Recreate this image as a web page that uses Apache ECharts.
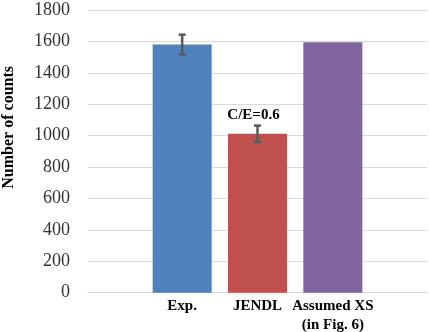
<!DOCTYPE html>
<html>
<head>
<meta charset="utf-8">
<script src="https://cdn.jsdelivr.net/npm/echarts@6/dist/echarts.min.js"></script>
<style>
  html, body { margin: 0; padding: 0; background: #fff; }
  #chart { width: 429px; height: 332px; }
</style>
</head>
<body>
<div id="chart"></div>
<script>
  // data
  const categories = ['Exp.', 'JENDL', 'Assumed XS\n(in Fig. 6)']
  const counts = [1580, 1012, 1595]
  const errors = [63, 52, null]
  const barColors = ['#4F81BD', '#C0504D', '#8064A2']
  const yTicks = [0, 200, 400, 600, 800, 1000, 1200, 1400, 1600, 1800]
  const ratioNote = 'C/E=0.6'

  const chart = echarts.init(document.getElementById('chart'))

  const serif = '"Liberation Serif", "DejaVu Serif", serif'

  let barData = counts.map((v, i) => {
    let item = {
      value: [i, v],
      itemStyle: { color: barColors[i] }
    }
    if (i === 1) {
      item.label = {
        show: true,
        position: 'top',
        distance: 11,
        offset: [-4, 0],
        formatter: ratioNote,
        fontFamily: serif,
        fontWeight: 'bold',
        fontSize: 15,
        color: '#000'
      }
    }
    return item
  })

  let errData = []
  counts.forEach((v, i) => {
    if (errors[i] != null) {
      errData.push([i, v - errors[i], v + errors[i]])
    }
  })

  let option = {
    animation: false,
    grid: {
      left: 88,
      right: 2,
      top: 10,
      bottom: 39.3,
      outerBoundsMode: 'none'
    },
    xAxis: {
      type: 'value',
      min: -1.25,
      max: 3.25,
      interval: 0.25,
      splitLine: { show: false },
      axisTick: { show: false },
      axisLine: { show: true, lineStyle: { color: '#d9d9d9', width: 1 } },
      axisLabel: {
        margin: 4,
        fontFamily: serif,
        fontWeight: 'bold',
        fontSize: 15,
        lineHeight: 19,
        color: '#000',
        showMinLabel: false,
        showMaxLabel: false,
        formatter: (value) => {
          let i = Math.round(value)
          return Math.abs(value - i) < 1e-6 && categories[i] ? categories[i] : ''
        }
      }
    },
    yAxis: {
      type: 'value',
      min: yTicks[0],
      max: yTicks[yTicks.length - 1],
      interval: yTicks[1] - yTicks[0],
      name: 'Number of counts',
      nameLocation: 'middle',
      nameGap: 71,
      nameTextStyle: {
        fontFamily: serif,
        fontWeight: 'bold',
        fontSize: 16,
        color: '#000',
        padding: [0, 0, 0, 48]
      },
      axisLine: { show: false },
      axisTick: { show: false },
      axisLabel: {
        margin: 18,
        fontFamily: serif,
        fontSize: 18,
        color: '#333',
        formatter: (value) => String(value)
      },
      splitLine: {
        lineStyle: { color: '#d9d9d9', width: 1 }
      }
    },
    series: [
      {
        type: 'bar',
        barWidth: 59,
        data: barData
      },
      {
        type: 'custom',
        data: errData,
        z: 5,
        renderItem: (params, api) => {
          let x = api.value(0)
          let lo = api.coord([x, api.value(1)])
          let hi = api.coord([x, api.value(2)])
          let half = 3.5
          let style = { stroke: '#595959', lineWidth: 2.5 }
          return {
            type: 'group',
            children: [
              { type: 'line', shape: { x1: lo[0], y1: lo[1], x2: hi[0], y2: hi[1] }, style: style },
              { type: 'line', shape: { x1: hi[0] - half, y1: hi[1], x2: hi[0] + half, y2: hi[1] }, style: style },
              { type: 'line', shape: { x1: lo[0] - half, y1: lo[1], x2: lo[0] + half, y2: lo[1] }, style: style }
            ]
          }
        }
      }
    ]
  }

  chart.setOption(option)
</script>
</body>
</html>
